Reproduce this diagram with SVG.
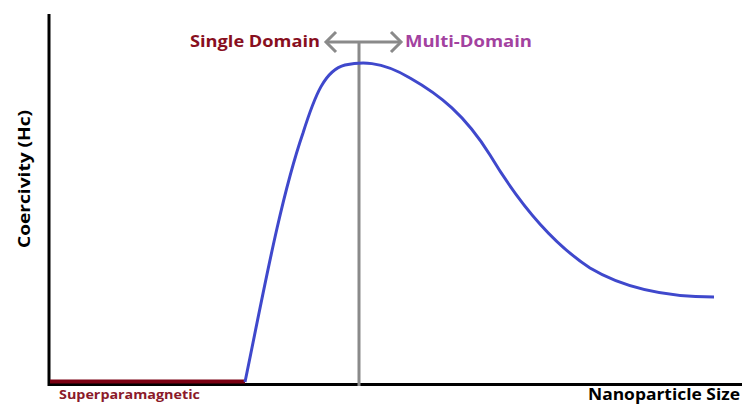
<svg xmlns="http://www.w3.org/2000/svg" width="742" height="404" viewBox="0 0 742 404">
<style>
.lbl{font-family:"Open Sans","Liberation Sans",sans-serif;font-weight:bold}
.gray{stroke:#8a8a8a;stroke-width:3;fill:none}
</style>
<rect width="742" height="404" fill="#fff"/>
<g id="axes">
<line x1="49" y1="14" x2="49" y2="386" stroke="#000" stroke-width="3"/>
<line x1="48" y1="384.5" x2="742" y2="384.5" stroke="#000" stroke-width="3"/>
<line x1="50" y1="381.5" x2="245" y2="381.5" stroke="#7a0012" stroke-width="4"/>
</g>
<g id="connectors">
<line class="gray" x1="359" y1="42" x2="359" y2="386"/>
<line class="gray" x1="326" y1="42" x2="401" y2="42"/>
<polyline class="gray" points="336,32 326,42 336,52"/>
<polyline class="gray" points="391,32 401,42 391,52"/>
<path id="curve" d="M245,382 C262,300 280,200 303,133 C315,95 325,70 345,65 C360,62 380,60 410,78 C440,95 465,115 490,155 C520,205 555,245 590,268 C630,292 680,297 714,297" fill="none" stroke="#3f48cc" stroke-width="3"/>
</g>
<g id="labels">
<text class="lbl" x="320" y="47" font-size="16" fill="#880f1e" text-anchor="end" textLength="130" lengthAdjust="spacingAndGlyphs">Single Domain</text>
<text class="lbl" x="405" y="47" font-size="16" fill="#a3429f" textLength="127" lengthAdjust="spacingAndGlyphs">Multi-Domain</text>
<text class="lbl" x="59" y="399" font-size="12.5" fill="#8b1a2a" textLength="141" lengthAdjust="spacingAndGlyphs">Superparamagnetic</text>
<text class="lbl" x="740" y="400" font-size="16" fill="#000" text-anchor="end" textLength="152" lengthAdjust="spacingAndGlyphs">Nanoparticle Size</text>
<text class="lbl" x="0" y="0" font-size="16" fill="#000" text-anchor="middle" transform="translate(30,179) rotate(-90)" textLength="138" lengthAdjust="spacingAndGlyphs">Coercivity (Hc)</text>
</g>
</svg>
